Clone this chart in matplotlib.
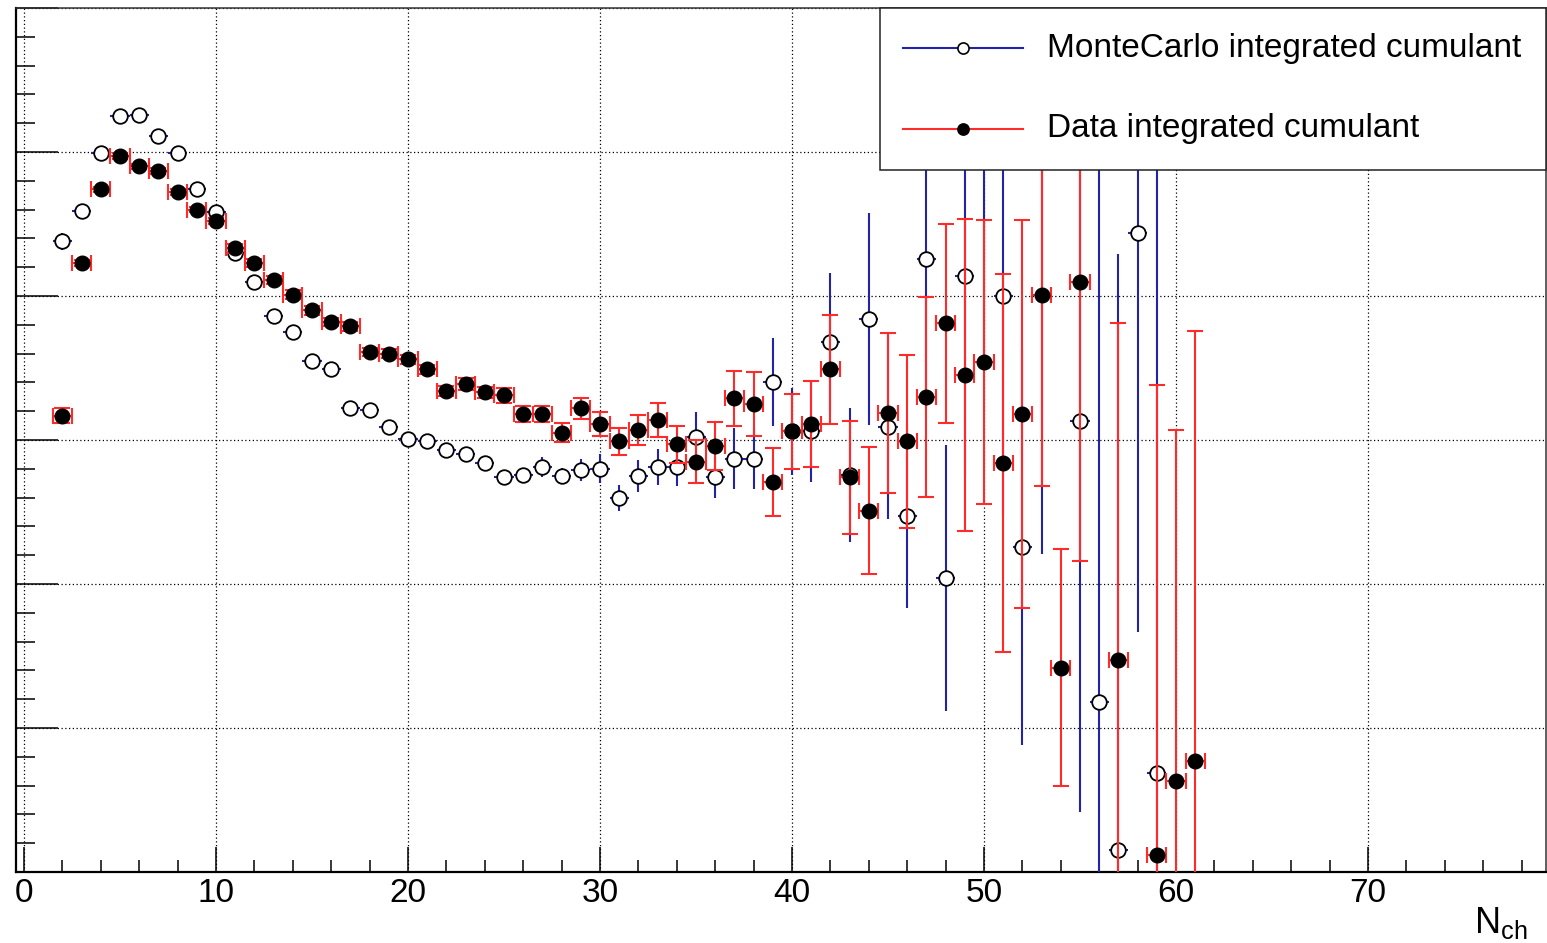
import matplotlib
matplotlib.use('Agg')
import matplotlib.pyplot as plt
import numpy as np
from matplotlib.patches import Rectangle
from matplotlib.ticker import MultipleLocator

plt.rcParams['font.family'] = ['Liberation Sans', 'DejaVu Sans']

# Multiplicity bins (N_ch)
mc_nch = np.arange(2, 60)
data_nch = np.arange(2, 62)

# MonteCarlo integrated cumulant (y axis has no labels: grid spacing = 1 unit)
mc_val = [4.38, 4.59, 4.99, 5.25, 5.26, 5.11, 4.99, 4.74, 4.58, 4.30,
          4.10, 3.86, 3.75, 3.55, 3.49, 3.22, 3.21, 3.09, 3.01, 2.99,
          2.93, 2.90, 2.84, 2.74, 2.76, 2.81, 2.75, 2.79, 2.80, 2.60,
          2.75, 2.81, 2.81, 3.02, 2.74, 2.87, 2.87, 3.40, 3.06, 3.06,
          3.68, 2.76, 3.84, 3.09, 2.47, 4.26, 2.04, 4.14, 5.22, 4.00,
          2.26, 5.36, np.nan, 3.13, 1.18, 0.15, 4.44, 0.69]
mc_err = [0.06, 0.04, 0.03, 0.03, 0.03, 0.03, 0.03, 0.03, 0.03, 0.035,
          0.035, 0.035, 0.035, 0.035, 0.035, 0.035, 0.035, 0.035, 0.035, 0.04,
          0.04, 0.04, 0.04, 0.04, 0.04, 0.07, 0.055, 0.075, 0.10, 0.09,
          0.11, 0.125, 0.13, 0.175, 0.145, 0.21, 0.21, 0.305, 0.30, 0.35,
          0.48, 0.465, 0.735, 0.64, 0.64, 1.04, 0.925, 1.39, 1.74, 1.53,
          1.375, 3.15, np.nan, 2.715, 4.86, 4.14, 2.77, 4.86]

# Data integrated cumulant
data_val = [3.17, 4.23, 4.74, 4.97, 4.90, 4.87, 4.72, 4.60, 4.52, 4.33,
            4.23, 4.11, 4.01, 3.90, 3.82, 3.79, 3.61, 3.60, 3.56, 3.49,
            3.34, 3.39, 3.33, 3.31, 3.18, 3.18, 3.05, 3.22, 3.11, 2.99,
            3.07, 3.14, 2.97, 2.85, 2.96, 3.29, 3.25, 2.71, 3.06, 3.11,
            3.49, 2.74, 2.51, 3.19, 2.99, 3.30, 3.81, 3.45, 3.54, 2.84,
            3.18, 4.01, 1.42, 4.10, np.nan, 1.47, np.nan, 0.12, 0.63, 0.77]
data_err = [0.05, 0.02, 0.02, 0.02, 0.02, 0.02, 0.02, 0.02, 0.02, 0.03,
            0.03, 0.03, 0.03, 0.03, 0.03, 0.03, 0.03, 0.03, 0.03, 0.03,
            0.035, 0.04, 0.04, 0.05, 0.055, 0.055, 0.065, 0.075, 0.083, 0.094,
            0.104, 0.12, 0.13, 0.15, 0.167, 0.19, 0.22, 0.236, 0.26, 0.30,
            0.38, 0.39, 0.44, 0.555, 0.60, 0.695, 0.69, 1.083, 0.986, 1.31,
            1.35, 1.33, 0.82, 1.94, np.nan, 2.34, np.nan, 3.26, 2.44, 2.99]

mc_label = 'MonteCarlo integrated cumulant'
data_label = 'Data integrated cumulant'

BLUE = '#2323a8'
RED = '#ff2a2a'

fig = plt.figure(figsize=(15.47, 9.43), dpi=100)
ax = fig.add_axes([16 / 1547, 1 - 872 / 943, 1530 / 1547, 864 / 943])

ax.errorbar(mc_nch, mc_val, yerr=mc_err, xerr=0.5, fmt='o', ms=10.5,
            mfc='white', mec='black', mew=1.3, ecolor=BLUE, elinewidth=1.5,
            capsize=0, zorder=3)
ax.errorbar(data_nch, data_val, yerr=data_err, xerr=0.5, fmt='o', ms=10.5,
            mfc='black', mec='black', ecolor=RED, elinewidth=1.5,
            capsize=5.5, capthick=1.5, zorder=4)

ax.set_xlim(-0.42, 79.27)
ax.set_ylim(0, 6)

ax.xaxis.set_major_locator(MultipleLocator(10))
ax.xaxis.set_minor_locator(MultipleLocator(2))
ax.yaxis.set_major_locator(MultipleLocator(1))
ax.yaxis.set_minor_locator(MultipleLocator(0.2))
ax.tick_params(axis='x', which='major', direction='in', length=18, width=1.1,
               labelsize=24, pad=4, top=False)
ax.tick_params(axis='x', which='minor', direction='in', length=9, width=1.1, top=False)
ax.tick_params(axis='y', which='major', direction='in', length=30, width=1.1,
               labelleft=False, right=False)
ax.tick_params(axis='y', which='minor', direction='in', length=14, width=1.1, right=False)
ax.grid(True, which='major', color='black', linestyle=(0, (1, 2)), linewidth=0.9)

for side in ['left', 'bottom']:
    ax.spines[side].set_linewidth(1.6)
for side in ['top', 'right']:
    ax.spines[side].set_linewidth(1.1)
    ax.spines[side].set_color('#333333')

ax.text(0.9876, -0.0706, r'N$_{\mathregular{ch}}$', transform=ax.transAxes,
        ha='right', va='baseline', fontsize=26)

# Legend box (ROOT style)
lx0 = (880 - 16) / 1530
ly0 = (872 - 170) / 864
ax.add_patch(Rectangle((lx0, ly0), 1 - lx0, 1 - ly0, transform=ax.transAxes,
                       facecolor='white', edgecolor='#222222', linewidth=1.1,
                       zorder=10, clip_on=False))
entries = [(mc_label, BLUE, 'white', (872 - 48) / 864),
           (data_label, RED, 'black', (872 - 129) / 864)]
for label, lcol, mfc, yy in entries:
    ax.plot([0.5797, 0.6582], [yy, yy], color=lcol, lw=1.5,
            transform=ax.transAxes, zorder=11, clip_on=False)
    ax.plot([0.619], [yy], 'o', ms=8, mfc=mfc, mec='black', mew=1.2,
            transform=ax.transAxes, zorder=12, clip_on=False)
    ax.text(0.6739, yy, label, transform=ax.transAxes, va='center', ha='left',
            fontsize=24, zorder=12)

fig.savefig('out.png', dpi=100)
